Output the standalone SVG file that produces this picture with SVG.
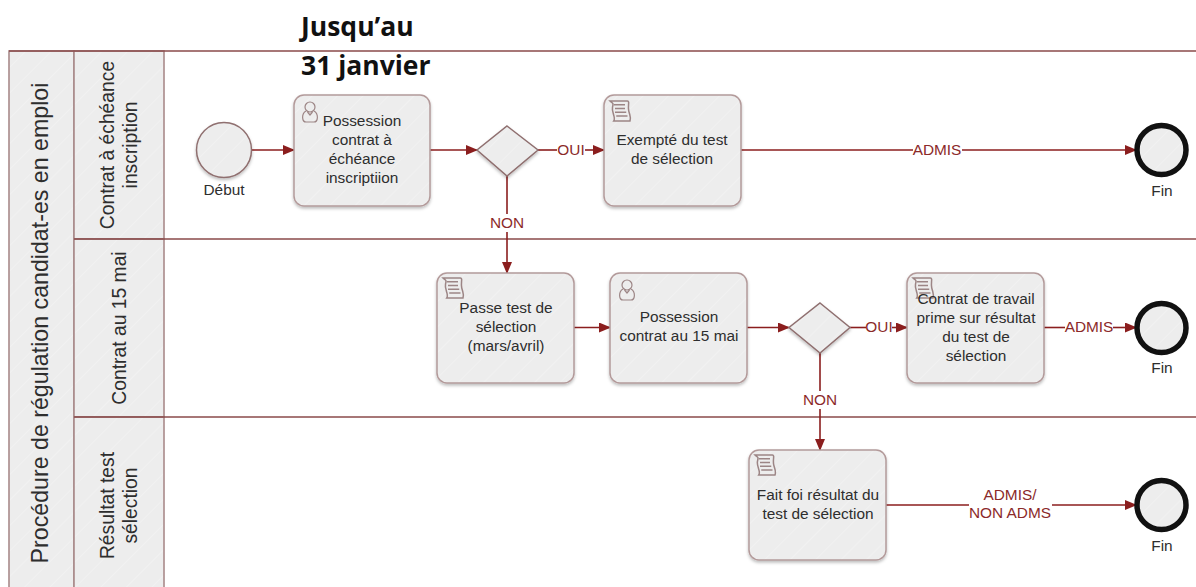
<svg xmlns="http://www.w3.org/2000/svg" width="1196" height="587" viewBox="0 0 1196 587">
<style>
text{font-family:"Liberation Sans",Arial,sans-serif;fill:#2e2e2e;font-size:15.4px;text-anchor:middle}
.lane{fill:url(#h);stroke:#a98a8a;stroke-width:1.6}
.sep{stroke:#8a4b4b;stroke-width:1.5;fill:none}
.task{fill:url(#h);stroke:#b39a9a;stroke-width:1.5;filter:url(#s)}
.gw{fill:url(#h);stroke:#8f6f6f;stroke-width:1.5;filter:url(#s)}
.conn{stroke:#8b1e1e;stroke-width:1.6;fill:none}
.arr{marker-end:url(#a)}
.lbl{fill:#8b2a2a}
.ev{fill:url(#h);stroke:#8f6f6f;stroke-width:1.5;filter:url(#s)}
.end{fill:url(#h);stroke:#111;stroke-width:5.5}
.ico{fill:none;stroke:#9c8585;stroke-width:1.2}
.sw{font-size:19.300px}
.ttl{font-family:"Open Sans","Noto Sans",sans-serif;font-weight:700;font-size:26.5px;fill:#111;text-anchor:start}
</style>
<defs>
<pattern id="h" width="18" height="18" patternUnits="userSpaceOnUse" patternTransform="rotate(45)"><rect width="18" height="18" fill="#ededed"/><rect width="1.2" height="18" fill="#f1f1f1"/></pattern>
<filter id="s" x="-10%" y="-10%" width="125%" height="125%"><feDropShadow dx="0" dy="2" stdDeviation="1.5" flood-color="#000" flood-opacity=".25"/></filter>
<marker id="a" markerWidth="12" markerHeight="10" refX="11" refY="5" orient="auto" markerUnits="userSpaceOnUse"><path d="M0 0L12 5L0 10Z" fill="#8b1e1e"/></marker>
<g id="user"><circle cx="0" cy="-5" r="5" class="ico"/><path d="M-4-1C-9 2-8 10-4 10H4C8 10 9 2 4-1" class="ico"/><path d="M-2.500 0L0 3L2.500 0" class="ico"/></g>
<g id="script"><path d="M-8-8H6C8-8 6-4 7 0S9 5 8 8H-5C-3 5-7 1-6-3S-6-6-8-8Z" class="ico"/><path d="M-5-5H4M-4-2H4M-4 1H5M-3 4H6" class="ico"/></g>
</defs>
<rect width="1196" height="587" fill="#fff"/>

<g id="pool">
<rect class="lane" x="9" y="51" width="65" height="540"/>
<rect class="lane" x="74" y="51" width="90" height="188"/>
<rect class="lane" x="74" y="239" width="90" height="178"/>
<rect class="lane" x="74" y="417" width="90" height="174"/>
<path class="sep" d="M9 51H1196M74 239H1196M74 417H1196"/>
<text transform="translate(48 323) rotate(-90)" style="font-size:23.200px">Procédure de régulation candidat-es en emploi</text>
<text class="sw" transform="translate(114 145) rotate(-90)">Contrat à échéance</text>
<text class="sw" transform="translate(137 145) rotate(-90)">inscription</text>
<text class="sw" transform="translate(126 328) rotate(-90)">Contrat au 15 mai</text>
<text class="sw" transform="translate(114 505.500) rotate(-90)">Résultat test</text>
<text class="sw" transform="translate(137 505.500) rotate(-90)">sélection</text>
</g>

<g id="connectors">
<path class="conn arr" d="M252 150H294"/>
<path class="conn arr" d="M430 150H477"/>
<path class="conn" d="M538 150H557"/>
<path class="conn arr" d="M585 150H604"/>
<path class="conn" d="M741 150H913"/>
<path class="conn arr" d="M962 150H1136"/>
<path class="conn" d="M507 176V214"/>
<path class="conn arr" d="M507 232V273"/>
<path class="conn arr" d="M574 327.500H610"/>
<path class="conn arr" d="M747 327.500H789"/>
<path class="conn" d="M850 327.500H866"/>
<path class="conn arr" d="M892 327.500H907"/>
<path class="conn" d="M1044 327.500H1065"/>
<path class="conn arr" d="M1113 327.500H1136"/>
<path class="conn" d="M820 353V391"/>
<path class="conn arr" d="M820 409V450"/>
<path class="conn" d="M886 505H969"/>
<path class="conn arr" d="M1052 505H1136"/>
<text class="lbl" x="571" y="155">OUI</text>
<text class="lbl" x="937" y="155">ADMIS</text>
<text class="lbl" x="507" y="228">NON</text>
<text class="lbl" x="879" y="332">OUI</text>
<text class="lbl" x="1089" y="332">ADMIS</text>
<text class="lbl" x="820" y="405">NON</text>
<text class="lbl" x="1010" y="500">ADMIS/</text>
<text class="lbl" x="1010" y="518">NON ADMS</text>
</g>

<g id="start"><circle class="ev" cx="224" cy="150" r="27.500"/><text x="224" y="195">Début</text></g>

<g id="t1"><rect class="task" x="294" y="95" width="136" height="111" rx="10"/><use href="#user" x="310" y="112"/>
<text x="362" y="126">Possession</text><text x="362" y="145">contrat à</text><text x="362" y="164">échéance</text><text x="362" y="183">inscriptiion</text></g>

<g id="g1"><path class="gw" d="M507 126L538 150L507 176L477 150Z"/></g>

<g id="t2"><rect class="task" x="604" y="95" width="137" height="111" rx="10"/><use href="#script" transform="translate(620 111) scale(1.25)"/>
<text x="672" y="145">Exempté du test</text><text x="672" y="164">de sélection</text></g>

<g id="e1"><circle class="end" cx="1161.500" cy="150" r="24.500"/><text x="1162" y="196">Fin</text></g>

<g id="t3"><rect class="task" x="437" y="273" width="137" height="110" rx="10"/><use href="#script" transform="translate(453 288) scale(1.25)"/>
<text x="506" y="313">Passe test de</text><text x="506" y="332">sélection</text><text x="506" y="351">(mars/avril)</text></g>

<g id="t4"><rect class="task" x="610" y="273" width="137" height="110" rx="10"/><use href="#user" x="627" y="290"/>
<text x="679" y="322">Possession</text><text x="679" y="341">contrat au 15 mai</text></g>

<g id="g2"><path class="gw" d="M820 303L850 327.500L820 353L789 327.500Z"/></g>

<g id="t5"><rect class="task" x="907" y="273" width="137" height="110" rx="10"/><use href="#script" transform="translate(923 288) scale(1.25)"/>
<text x="976" y="304">Contrat de travail</text><text x="976" y="323">prime sur résultat</text><text x="976" y="342">du test de</text><text x="976" y="361">sélection</text></g>

<g id="e2"><circle class="end" cx="1161.500" cy="328" r="24.500"/><text x="1162" y="373">Fin</text></g>

<g id="t6"><rect class="task" x="749" y="450" width="137" height="110" rx="10"/><use href="#script" transform="translate(765 465) scale(1.25)"/>
<text x="818" y="500">Fait foi résultat du</text><text x="818" y="519">test de sélection</text></g>

<g id="e3"><circle class="end" cx="1161.500" cy="505" r="24.500"/><text x="1162" y="551">Fin</text></g>

<g id="note"><text class="ttl" x="301" y="36">Jusqu’au</text><text class="ttl" x="301" y="75">31 janvier</text></g>
</svg>
